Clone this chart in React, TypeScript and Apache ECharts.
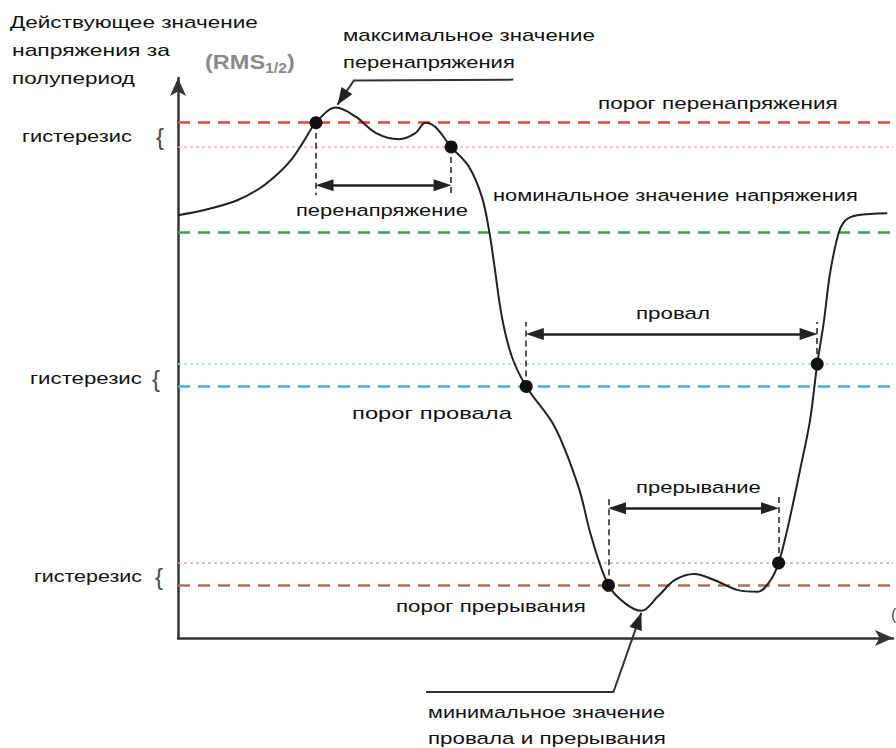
import React, { useEffect, useRef } from "react";
import * as echarts from "echarts";

// Curve: RMS(1/2) in % of nominal voltage vs. time (arbitrary units 0..100)
const curveX = [0, 4, 8.2, 11.5, 14.2, 16, 17.4, 19.3, 22.1, 24.9, 27.7, 30.9, 33.2, 34.6, 36.0, 38.2, 40.7, 42.5, 43.5, 44.2, 45.3, 46.7, 48.7, 52.7, 56.0, 57.8, 60.2, 62.5, 64.8, 67.1, 69.5, 72.2, 75.0, 78.3, 81.1, 82.9, 84.0, 85.2, 87.0, 88.4, 89.4, 90.3, 91.2, 92.4, 93.4, 95.0, 99.2];
const curveY = [104.2, 105.6, 107.8, 110.9, 114.8, 118.2, 121.9, 127, 130.7, 128.4, 124.4, 122.9, 124.4, 127.0, 125.9, 121, 116.1, 108.7, 100.5, 92.4, 79.1, 69.3, 62, 52.0, 37.3, 25.0, 13, 8.6, 6.7, 10.2, 14.3, 15.8, 14.3, 11.8, 11.4, 14.3, 18.5, 26.6, 41.4, 53.7, 67.5, 77.6, 89.9, 99.8, 103.0, 104.2, 104.7];

// Crossing points
const dotX = [19.3, 38.2, 48.7, 60.2, 84.0, 89.4];
const dotY = [127, 121, 62, 13, 18.5, 67.5];

// Threshold levels (%)
const levelNames = ["overThreshold", "overHyst", "nominal", "dipHyst", "dipThreshold", "intHyst", "intThreshold"];
const levelValues = [127, 121, 100, 67.5, 62, 18.5, 13];

// Event durations (start x, end x, arrow level y)
const eventStart = [19.3, 48.7, 60.2];
const eventEnd = [38.2, 89.4, 84.0];
const eventStartY = [127, 62, 13];
const eventEndY = [121, 67.5, 18.5];
const eventLevel = [111.6, 74.9, 32.0];

// Callouts
const maxCallout = [[46.9, 137.6], [24.6, 137.4], [22.3, 131.4]];
const minCallout = [[34.7, -13.3], [60.9, -13.3], [64.8, 6.2]];

const FONT = "Liberation Sans";
const FS = 17;

const texts: { t: string; x: number; y: number; w: number }[] = [
  { t: "Действующее значение", x: 10, y: 22, w: 248 },
  { t: "напряжения за", x: 12, y: 50, w: 158 },
  { t: "полупериод", x: 12, y: 78, w: 123 },
  { t: "максимальное значение", x: 343, y: 35, w: 252 },
  { t: "перенапряжения", x: 343, y: 62, w: 172 },
  { t: "порог перенапряжения", x: 598, y: 103, w: 240 },
  { t: "гистерезис", x: 22, y: 136, w: 110 },
  { t: "перенапряжение", x: 296, y: 210, w: 172 },
  { t: "номинальное значение напряжения", x: 493, y: 195, w: 365 },
  { t: "провал", x: 636, y: 313, w: 74 },
  { t: "гистерезис", x: 30, y: 378, w: 112 },
  { t: "порог провала", x: 352, y: 413, w: 160 },
  { t: "прерывание", x: 636, y: 487, w: 125 },
  { t: "гистерезис", x: 34, y: 576, w: 108 },
  { t: "порог прерывания", x: 396, y: 606, w: 190 },
  { t: "минимальное значение", x: 428, y: 712, w: 237 },
  { t: "провала и прерывания", x: 428, y: 738, w: 238 },
];
const braces = [
  { x: 156, y: 136 },
  { x: 152, y: 378 },
  { x: 155, y: 576 },
];

function measure(t: string, font: string) {
  const c = document.createElement("canvas");
  const ctx = c.getContext("2d")!;
  ctx.font = font;
  return ctx.measureText(t).width;
}

export default function App() {
  const ref = useRef<HTMLDivElement>(null);
  useEffect(() => {
    if (!ref.current) return;
    const chart = echarts.init(ref.current, null, { renderer: "svg" });

    const levelStyles = [
      { color: "#e8413a", width: 2.5, type: [12, 8] },
      { color: "#f2b2aa", width: 1.5, type: [3, 3] },
      { color: "#35a35a", width: 2.5, type: [12, 8] },
      { color: "#a8d8f2", width: 1.5, type: [3, 3] },
      { color: "#4aaee3", width: 2.5, type: [12, 8] },
      { color: "#d9a898", width: 1.5, type: [3, 3] },
      { color: "#b56e58", width: 2.5, type: [12, 8] },
    ];

    const dropStyle = { color: "#555", width: 2, type: [6, 4] };
    const drops: any[] = [];
    for (let i = 0; i < eventStart.length; i++) {
      const below = eventLevel[i] < eventStartY[i];
      drops.push([{ coord: [eventStart[i], eventStartY[i]] }, { coord: [eventStart[i], eventLevel[i] + (below ? -2.5 : 3)] }]);
      const below2 = eventLevel[i] < eventEndY[i];
      drops.push([{ coord: [eventEnd[i], eventEndY[i]] }, { coord: [eventEnd[i], eventLevel[i] + (below2 ? -2.5 : 3)] }]);
    }

    const option: any = {
      animation: false,
      grid: { left: 178, right: 3, top: 78, bottom: 110, containLabel: false },
      xAxis: {
        type: "value",
        min: 0,
        max: 100,
        axisLine: { show: true, symbol: ["none", "arrow"], symbolSize: [12, 18], lineStyle: { color: "#333", width: 2.5 } },
        axisTick: { show: false },
        axisLabel: { show: false },
        splitLine: { show: false },
      },
      yAxis: {
        type: "value",
        min: 0,
        max: 138,
        axisLine: { show: true, symbol: ["none", "arrow"], symbolSize: [12, 18], lineStyle: { color: "#333", width: 2.5 } },
        axisTick: { show: false },
        axisLabel: { show: false },
        splitLine: { show: false },
      },
      series: [
        {
          type: "line",
          name: "levels",
          data: [],
          markLine: {
            silent: true,
            symbol: ["none", "none"],
            label: { show: false },
            data: levelValues.map((v, i) => ({ name: levelNames[i], yAxis: v, lineStyle: levelStyles[i] })),
          },
        },
        {
          type: "line",
          name: "events",
          data: [],
          markLine: {
            silent: true,
            symbol: ["none", "none"],
            label: { show: false },
            lineStyle: dropStyle,
            data: drops,
          },
        },
        {
          type: "line",
          name: "durations",
          data: [],
          markLine: {
            silent: true,
            symbol: ["triangle", "triangle"],
            symbolSize: [12, 18],
            label: { show: false },
            lineStyle: { color: "#222", width: 2.5, type: "solid" },
            data: eventStart.map((s, i) => [
              { coord: [s + 1.2, eventLevel[i]] },
              { coord: [eventEnd[i] - 1.2, eventLevel[i]] },
            ]),
          },
        },
        {
          type: "line",
          name: "RMS",
          data: curveX.map((x, i) => [x, curveY[i]]),
          smooth: 0.35,
          showSymbol: false,
          lineStyle: { color: "#222", width: 2 },
          z: 5,
        },
        {
          type: "scatter",
          name: "crossings",
          data: dotX.map((x, i) => [x, dotY[i]]),
          symbolSize: 13,
          itemStyle: { color: "#111", opacity: 1 },
          z: 6,
        },
      ],
    };
    chart.setOption(option);

    const px = (p: number[]) => chart.convertToPixel({ gridIndex: 0 }, p) as number[];
    const head = (tip: number[], from: number[], len = 17, half = 6.5) => {
      const dx = tip[0] - from[0];
      const dy = tip[1] - from[1];
      const d = Math.hypot(dx, dy) || 1;
      const ux = dx / d, uy = dy / d;
      const bx = tip[0] - ux * len, by = tip[1] - uy * len;
      return [tip, [bx - uy * half, by + ux * half], [bx + uy * half, by - ux * half]];
    };
    const callout = (pts: number[][]) => {
      const pp = pts.map(px);
      return [
        { type: "polyline", shape: { points: pp }, style: { stroke: "#333", lineWidth: 2, fill: "none" }, z: 10 },
        { type: "polygon", shape: { points: head(pp[pp.length - 1], pp[pp.length - 2]) }, style: { fill: "#222" }, z: 10 },
      ];
    };

    const textEls = texts.map((o) => {
      const font = `${FS}px "${FONT}"`;
      const w = measure(o.t, font);
      return {
        type: "text",
        x: o.x,
        y: o.y,
        scaleX: w > 0 ? o.w / w : 1,
        style: { text: o.t, fontSize: FS, fontFamily: FONT, fill: "#111", verticalAlign: "middle", textVerticalAlign: "middle" },
        z: 20,
      };
    });
    const braceEls = braces.map((b) => ({
      type: "text",
      x: b.x,
      y: b.y,
      style: { text: "{", fontSize: 24, fontFamily: FONT, fill: "#4a4a4a", verticalAlign: "middle", textVerticalAlign: "middle" },
      z: 20,
    }));

    chart.setOption({
      graphic: [
        ...textEls,
        ...braceEls,
        {
          type: "text",
          x: 205,
          y: 62,
          scaleX: 1.12,
          style: {
            text: "(RMS{s|1/2})",
            fontSize: 21,
            fontWeight: "bold",
            fontFamily: FONT,
            fill: "#8a8a8a",
            verticalAlign: "middle",
            textVerticalAlign: "middle",
            rich: {
              s: { fontSize: 14, fontWeight: "bold", fontFamily: FONT, fill: "#8a8a8a", color: "#8a8a8a", padding: [12, 0, 0, 0] },
            },
          },
          z: 20,
        },
        {
          type: "text",
          x: 891,
          y: 614,
          style: { text: "(", fontSize: 16, fontFamily: FONT, fill: "#444", verticalAlign: "middle", textVerticalAlign: "middle" },
          z: 20,
        },
        ...callout(maxCallout),
        ...callout(minCallout),
      ],
    });

    return () => chart.dispose();
  }, []);
  return <div ref={ref} style={{ position: "fixed", left: 0, top: 0, width: 896, height: 748, background: "#fff" }} />;
}
